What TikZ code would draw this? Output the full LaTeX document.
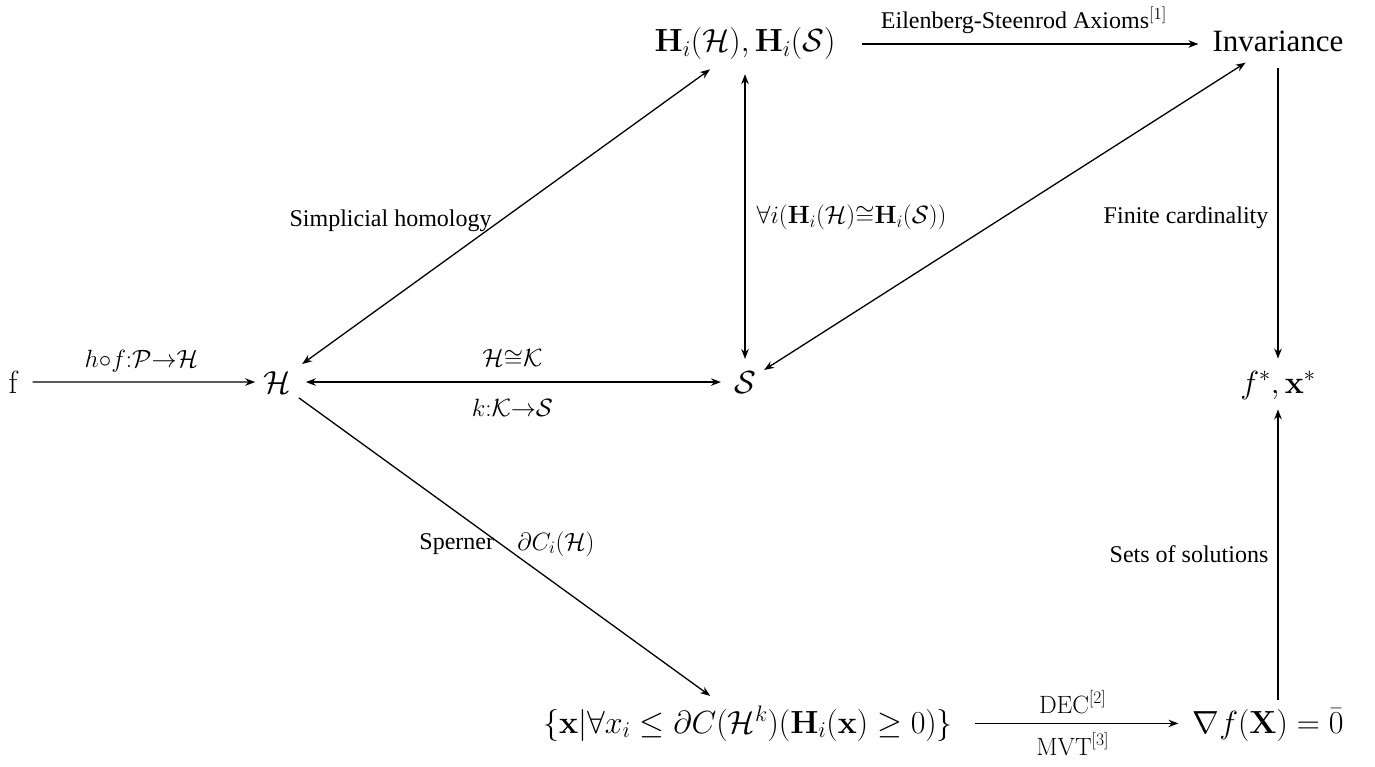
\RequirePackage{fix-cm}
\documentclass[tikz,border=0pt]{standalone}
\usepackage[no-math]{fontspec}
\setmainfont{Liberation Serif}
\usetikzlibrary{arrows.meta}
\tikzset{
  obj/.style={inner sep=8pt, anchor=base, font=\fontsize{32}{38}\selectfont},
  tobj/.style={inner sep=8pt, anchor=base, font=\fontsize{31}{37}\selectfont},
  lab/.style={font=\fontsize{24}{28}\selectfont, inner sep=5pt},
  mlab/.style={font=\fontsize{25}{29}\selectfont, inner sep=5pt},
  tipA/.tip={Stealth[length=10pt,width=7.5pt]},
  arr/.style={line width=1.3pt, -tipA},
  darr/.style={line width=1.3pt, tipA-tipA},
}
\begin{document}
\begin{tikzpicture}[x=1pt,y=-1pt]
\useasboundingbox (0,0) rectangle (1375,767);
% nodes
\node[obj] (f) at (14,393) {$\mathrm{f}$};
\node[obj] (H) at (277,393) {$\mathcal{H}$};
\node[obj] (S) at (745,393) {$\mathcal{S}$};
\node[obj] (top) at (745,52) {$\mathbf{H}_i(\mathcal{H}), \mathbf{H}_i(\mathcal{S})$};
\node[tobj] (inv) at (1278,52) {Invariance};
\node[obj] (fx) at (1278,393) {$f^*, \mathbf{x}^*$};
\node[obj] (bot) at (748,733) {$\{\mathbf{x}|\forall x_i \leq \partial C(\mathcal{H}^k)(\mathbf{H}_i(\mathbf{x}) \geq 0)\}$};
\node[obj] (nab) at (1268,733) {$\nabla f(\mathbf{X}) = \bar{0}$};
% edges
\draw[arr, shorten <=5pt] (f) -- node[mlab, above, yshift=4pt]{$h{\circ}f{:}\mathcal{P}{\to}\mathcal{H}$} (H);
\draw[darr, shorten <=7pt, shorten >=5pt] (H) -- node[mlab, above, yshift=9pt]{$\mathcal{H}{\cong}\mathcal{K}$} node[mlab, below, yshift=-11pt]{$k{:}\mathcal{K}{\to}\mathcal{S}$} (S);
\draw[darr, shorten <=4pt, shorten >=2pt] (H) -- node[lab, midway, anchor=east, xshift=-8pt, yshift=-3pt]{Simplicial homology} (top);
\draw[darr, shorten <=6pt, shorten >=4pt] (top) -- node[mlab, midway, anchor=west, xshift=6pt, yshift=-2pt]{$\forall i(\mathbf{H}_i(\mathcal{H}){\cong}\mathbf{H}_i(\mathcal{S}))$} (S);
\draw[darr, shorten <=4pt] (inv) -- (S);
\draw[arr, shorten <=18pt, shorten >=6pt] (top.east) -- node[lab, above, yshift=5pt]{Eilenberg-Steenrod Axioms$^{[1]}$} (top.east -| inv.west);
\draw[arr, shorten <=8pt, shorten >=4pt] (inv) -- node[lab, midway, anchor=east, xshift=-4pt, yshift=-6pt]{Finite cardinality} (fx);
\draw[arr, shorten >=3pt] (H) -- node[lab, midway, anchor=east, xshift=-6pt, yshift=4pt]{Sperner} node[mlab, midway, anchor=west, xshift=6pt, yshift=4pt]{$\partial C_i(\mathcal{H})$} (bot);
\draw[arr, shorten <=14pt, shorten >=6pt] (bot.east) -- node[mlab, above, yshift=4pt]{$\mathrm{DEC}^{[2]}$} node[mlab, below, yshift=-3pt]{$\mathrm{MVT}^{[3]}$} (bot.east -| nab.west);
\draw[arr, shorten >=2pt] (nab.north -| fx) -- node[lab, midway, anchor=east, xshift=-4pt]{Sets of solutions} (fx);
\end{tikzpicture}
\end{document}
